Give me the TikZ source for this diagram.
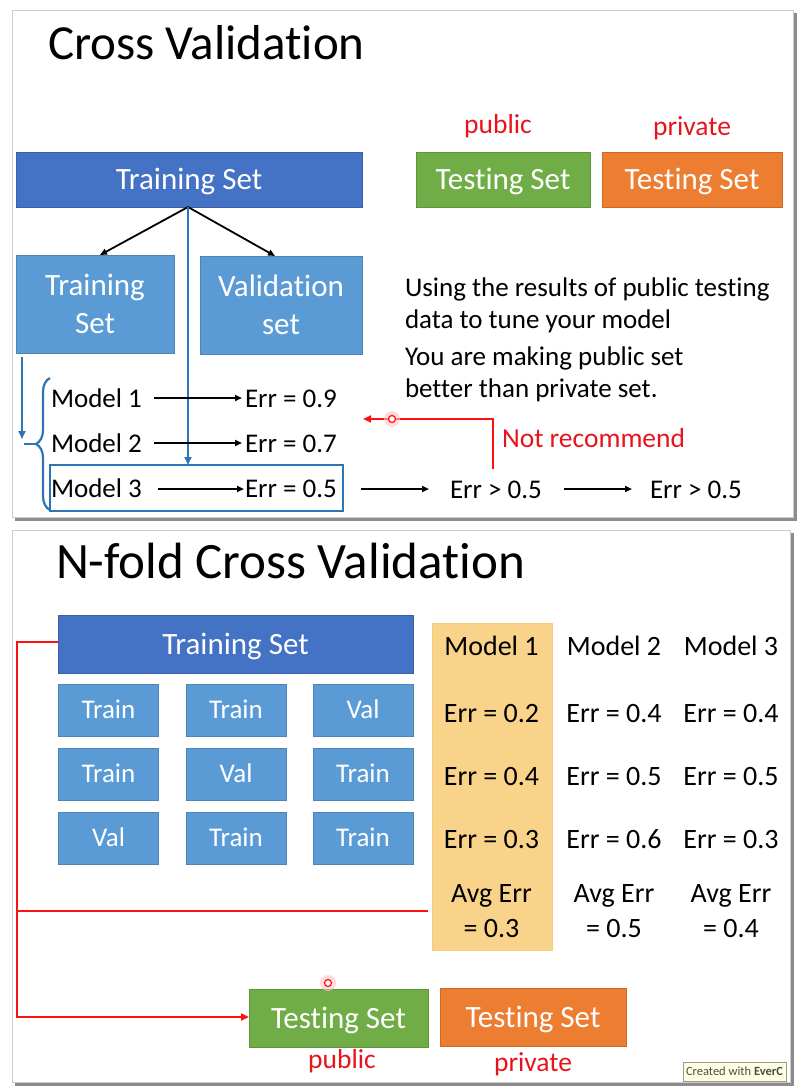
\documentclass[tikz,border=0pt]{standalone}
\usepackage{fontspec}
\setmainfont{Carlito}[Ligatures=NoCommon]
\usetikzlibrary{arrows.meta,decorations.pathreplacing,calc}
\definecolor{dblue}{HTML}{4472C4}
\definecolor{mblue}{HTML}{5B9BD5}
\definecolor{lblue}{HTML}{2E75B6}
\definecolor{sgreen}{HTML}{70AD47}
\definecolor{sorange}{HTML}{ED7D31}
\definecolor{syellow}{HTML}{FAD38A}
\definecolor{sred}{HTML}{FF1010}
\definecolor{tred}{HTML}{E8141B}
\definecolor{tipfill}{HTML}{FFFFE1}
\begin{document}
\begin{tikzpicture}[x=1pt,y=-1pt,
  every node/.style={outer sep=0pt},
  slide/.style={fill=white, draw=black!20, line width=0.6pt},
  slideshadow/.style={fill=black!45},
  title/.style={font=\fontsize{48}{56}\selectfont, anchor=base west, inner sep=0pt},
  txt/.style={font=\fontsize{27}{31}\selectfont, anchor=base west, inner sep=0pt},
  ctxt/.style={font=\fontsize{28}{34}\selectfont, anchor=base, inner sep=0pt, align=center},
  redtxt/.style={font=\fontsize{27.5}{32}\selectfont, text=tred, anchor=base, inner sep=0pt},
  boxbase/.style={font=\fontsize{31}{38}\selectfont, text=white, inner sep=0pt, line width=0.5pt},
  oneline/.style={text height=20pt, text depth=0pt},
  darkbox/.style={boxbase, oneline, fill=dblue, draw=dblue!85!black},
  medbox/.style={boxbase, align=center, fill=mblue, draw=mblue!85!black},
  cellbox/.style={boxbase, text height=17.4pt, text depth=0pt, font=\fontsize{27}{30}\selectfont, fill=mblue, draw=mblue!85!black, minimum width=100pt, minimum height=52pt},
  greenbox/.style={boxbase, oneline, fill=sgreen, draw=sgreen!85!black},
  orangebox/.style={boxbase, oneline, fill=sorange, draw=sorange!85!black},
  blk/.style={-{Triangle[length=7pt,width=6pt]}, line width=1.8pt, black},
  bluearr/.style={-{Triangle[length=8pt,width=7pt]}, line width=2.4pt, lblue},
  redline/.style={line width=2.5pt, sred},
  redarr/.style={redline, -{Triangle[length=8pt,width=7pt]}},
  cursor/.style={circle, draw=sred, fill=white, line width=1.2pt, minimum size=7pt, inner sep=0pt}
]
\useasboundingbox (0,0) rectangle (800,1090);
\fill[white] (0,0) rectangle (800,1090);

% ---------- slide frames ----------
\fill[slideshadow] (15,13) rectangle (797,521);
\filldraw[slide] (12,10) rectangle (793,517);
\fill[slideshadow] (15,533) rectangle (794,1086);
\filldraw[slide] (12,530) rectangle (790,1082);

% ================= TOP SLIDE =================
\node[title, font=\fontsize{49}{56}\selectfont] (t1) at (48,59) {Cross Validation};

\node[redtxt] (publ) at (498,133) {public};
\node[redtxt] (pril) at (692,135) {private};

\node[darkbox, minimum width=346pt, minimum height=55pt] (ts) at (189,179.5) {Training Set};
\node[greenbox, minimum width=174pt, minimum height=55pt] (pub) at (503,179.5) {Testing Set};
\node[orangebox, minimum width=180pt, minimum height=55pt] (pri) at (692,179.5) {Testing Set};

\node[medbox, minimum width=158pt, minimum height=98pt] (tr) at (95,304) {Training\\Set};
\node[medbox, minimum width=162pt, minimum height=98pt] (val) at (281,305) {Validation\\set};

\coordinate (tsb) at (188,207);
\draw[blk] (tsb) -- ($(tr.north)+(5,0)$);
\draw[blk] (tsb) -- ($(val.north)+(-6,0)$);

% model 3 frame
\node[draw=lblue, line width=2pt, minimum width=293pt, minimum height=46pt, inner sep=0pt] (m3box) at (196.5,488) {};
\draw[bluearr] (tsb) -- (tsb |- m3box.north);

% models
\node[txt] (m1) at (51,407) {Model 1};
\node[txt] (m2) at (51,452) {Model 2};
\node[txt] (m3) at (51,497) {Model 3};
\node[txt] (e1) at (245,407) {Err = 0.9};
\node[txt] (e2) at (245,452) {Err = 0.7};
\node[txt] (e3) at (245,497) {Err = 0.5};
\coordinate (a1s) at (154,398); \coordinate (a1e) at (242,398);
\coordinate (a2s) at (154,443); \coordinate (a2e) at (242,443);
\coordinate (a3s) at (158,489); \coordinate (a3e) at (244,489);
\draw[blk] (a1s) -- (a1e);
\draw[blk] (a2s) -- (a2e);
\draw[blk] (a3s) -- (a3e);

% brace and left blue arrow
\coordinate (bl1) at (22,357);
\coordinate (bl2) at (22,439);
\draw[bluearr] (bl1) -- (bl2);
\coordinate (braceTip) at (36,444);
\draw[lblue, line width=2.2pt] (24,444) -- (braceTip);
\draw[lblue, line width=2.2pt, decorate, decoration={brace, amplitude=14pt, aspect=0.5}] (50,510) -- (50,378);

% later errors
\node[txt] (g1) at (450,498) {Err > 0.5};
\node[txt] (g2) at (650,498) {Err > 0.5};
\coordinate (b1s) at (361,489); \coordinate (b1e) at (429,489);
\coordinate (b2s) at (564,489); \coordinate (b2e) at (632,489);
\draw[blk] (b1s) -- (b1e);
\draw[blk] (b2s) -- (b2e);

% red feedback
\coordinate (r1) at (493,469);
\coordinate (r2) at (493,419);
\coordinate (r3) at (363,419);
\draw[redarr] (r1) -- (r2) -- (r3);
\node[redtxt, anchor=base west] (nr) at (502,447) {Not recommend};
\fill[sred!25, opacity=0.6] (392,419) circle (8pt);
\node[cursor] (c1) at (392,419) {};

% paragraph
\node[txt] (p1) at (405,296) {Using the results of public testing};
\node[txt] (p2) at (405,328) {data to tune your model};
\node[txt] (p3) at (405,365) {You are making public set};
\node[txt] (p4) at (405,397) {better than private set.};

% ================= BOTTOM SLIDE =================
\node[title, font=\fontsize{51}{58}\selectfont] (t2) at (56,578) {N-fold Cross Validation};

\node[fill=syellow, draw=syellow!90!orange, line width=0.5pt, minimum width=120pt, minimum height=327pt, inner sep=0pt] (ycol) at (492,786.5) {};

\node[darkbox, minimum width=355pt, minimum height=58pt] (ts2) at (235.5,644) {Training Set};

\node[cellbox] (c11) at (108.5,710) {Train};
\node[cellbox] (c12) at (236,710) {Train};
\node[cellbox] (c13) at (363,710) {Val};
\node[cellbox] (c21) at (108.5,774) {Train};
\node[cellbox] (c22) at (236,774) {Val};
\node[cellbox] (c23) at (363,774) {Train};
\node[cellbox] (c31) at (108.5,838) {Val};
\node[cellbox] (c32) at (236,838) {Train};
\node[cellbox] (c33) at (363,838) {Train};

% table
\node[ctxt] (h1) at (491.5,655) {Model 1};
\node[ctxt] (h2) at (614,655) {Model 2};
\node[ctxt] (h3) at (731,655) {Model 3};
\node[ctxt] (v11) at (491.5,722) {Err = 0.2};
\node[ctxt] (v12) at (614,722) {Err = 0.4};
\node[ctxt] (v13) at (731,722) {Err = 0.4};
\node[ctxt] (v21) at (491.5,785) {Err = 0.4};
\node[ctxt] (v22) at (614,785) {Err = 0.5};
\node[ctxt] (v23) at (731,785) {Err = 0.5};
\node[ctxt] (v31) at (491.5,848) {Err = 0.3};
\node[ctxt] (v32) at (614,848) {Err = 0.6};
\node[ctxt] (v33) at (731,848) {Err = 0.3};
\node[ctxt] (av1) at (491.5,902) {Avg Err};
\node[ctxt] (av2) at (614,902) {Avg Err};
\node[ctxt] (av3) at (731,902) {Avg Err};
\node[ctxt] (aw1) at (491.5,937) {= 0.3};
\node[ctxt] (aw2) at (614,937) {= 0.5};
\node[ctxt] (aw3) at (731,937) {= 0.4};

% testing sets
\node[greenbox, minimum width=179pt, minimum height=58pt] (pub2) at (338.5,1018) {Testing Set};
\node[orangebox, minimum width=186pt, minimum height=58pt] (pri2) at (533,1017) {Testing Set};
\node[redtxt] (publ2) at (342,1068) {public};
\node[redtxt] (pril2) at (533,1071) {private};

% red lines
\coordinate (q1) at (17,642);
\coordinate (q2) at (17,1017);
\coordinate (q3) at (17,911);
\coordinate (q4) at (428,911);
\draw[redline] (ts2.west |- q1) -- (q1) -- (q3);
\draw[redarr] (q3) -- (q2) -- (pub2.west |- q2);
\draw[redline] (q3) -- (q4);
\fill[sred!25, opacity=0.6] (328,983) circle (8pt);
\node[cursor] (c2) at (328,983) {};

% tooltip
\begin{scope}
\clip (600,1050) rectangle (790,1082);
\node[fill=tipfill, draw=black!40, line width=0.4pt, anchor=north west, inner sep=3pt, font=\fontsize{12.5}{14}\selectfont, text=black!70, minimum height=19pt] (tip) at (683,1062) {Created with \textbf{EverC}};
\end{scope}
\end{tikzpicture}
\end{document}
